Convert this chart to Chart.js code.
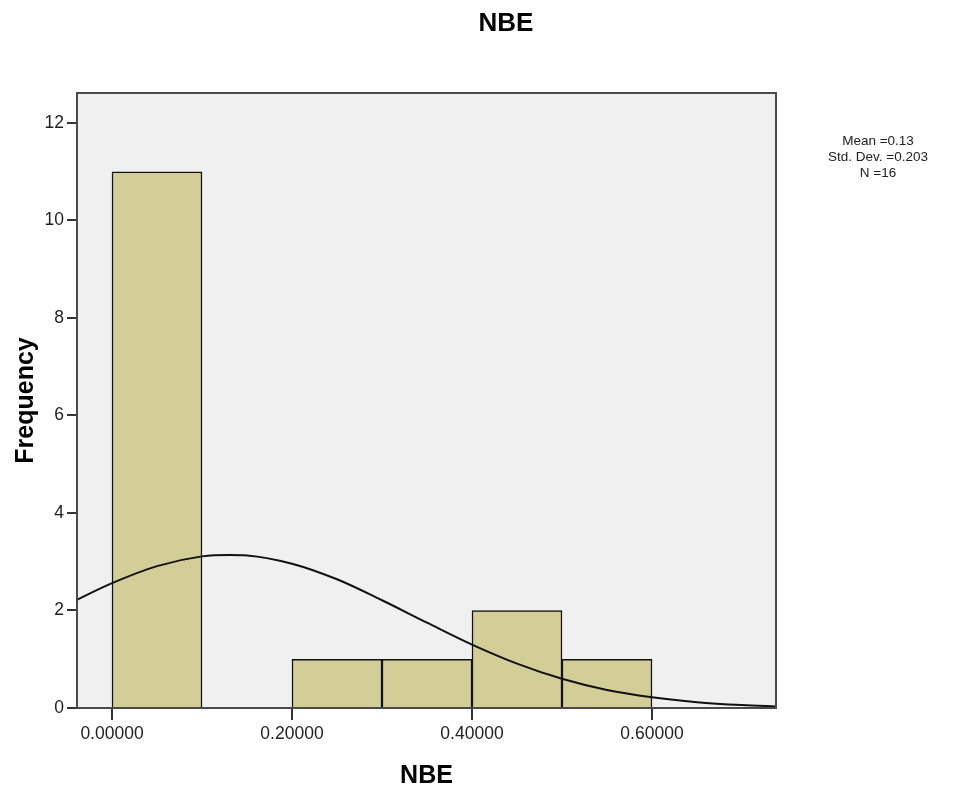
<!DOCTYPE html>
<html>
<head>
<meta charset="utf-8">
<script src="https://cdn.jsdelivr.net/npm/chart.js@4/dist/chart.umd.min.js"></script>
<style>
  html, body { margin: 0; padding: 0; background: #fff; }
  #wrap { position: relative; width: 973px; height: 791px; }
</style>
</head>
<body>
<div id="wrap"><canvas id="histChart" width="973" height="791"></canvas></div>
<script>
// histogram bins (centre of each 0.1 wide bin) and counts
const binCentres = [0.05, 0.25, 0.35, 0.45, 0.55];
const binCounts = [11, 1, 1, 2, 1];

// normal curve
const curveX = [-0.04, 0, 0.05, 0.1, 0.13, 0.15, 0.2, 0.25, 0.3, 0.35, 0.4, 0.45, 0.5, 0.55, 0.6, 0.65, 0.7, 0.74];
const curveY = [2.21, 2.56, 2.91, 3.11, 3.14, 3.13, 2.96, 2.64, 2.21, 1.75, 1.30, 0.91, 0.60, 0.37, 0.22, 0.12, 0.06, 0.03];

const xTicks = [0, 0.2, 0.4, 0.6];
const yTicks = [0, 2, 4, 6, 8, 10, 12];
const statsLines = ['Mean =0.13', 'Std. Dev. =0.203', 'N =16'];

const fontFamily = '"Liberation Sans", Arial, sans-serif';

// plot background, frame, title and stats text
const framePlugin = {
    id: 'frame',
    beforeDatasetsDraw(chart) {
        const a = chart.chartArea;
        const ctx = chart.ctx;
        ctx.save();
        ctx.fillStyle = '#f0f0f0';
        ctx.fillRect(a.left, a.top, a.right - a.left, a.bottom - a.top);
        ctx.restore();
    },
    afterDraw(chart) {
        const a = chart.chartArea;
        const ctx = chart.ctx;
        ctx.save();
        ctx.strokeStyle = '#4a4a4a';
        ctx.lineWidth = 2;
        ctx.strokeRect(a.left, a.top, a.right - a.left, a.bottom - a.top);

        ctx.fillStyle = '#000';
        ctx.textAlign = 'center';
        ctx.textBaseline = 'middle';
        ctx.font = 'bold 26px ' + fontFamily;
        ctx.fillText('NBE', 506, 24);

        ctx.font = '13.5px ' + fontFamily;
        ctx.fillStyle = '#222';
        statsLines.forEach((s, i) => ctx.fillText(s, 878, 141 + i * 16));
        ctx.restore();
    }
};

new Chart(document.getElementById('histChart'), {
    type: 'bar',
    data: {
        datasets: [
            {
                type: 'line',
                data: curveX.map((x, i) => ({ x: x, y: curveY[i] })),
                borderColor: '#111',
                borderWidth: 2,
                pointRadius: 0,
                tension: 0.4,
                cubicInterpolationMode: 'monotone',
                order: 0
            },
            {
                type: 'bar',
                data: binCentres.map((x, i) => ({ x: x, y: binCounts[i] })),
                backgroundColor: '#d3ce98',
                borderColor: '#111',
                borderWidth: 1.5,
                barPercentage: 1,
                categoryPercentage: 1,
                order: 1
            }
        ]
    },
    options: {
        responsive: false,
        animation: false,
        layout: { padding: { top: 93, right: 197, left: 0, bottom: 0 } },
        plugins: { legend: { display: false }, tooltip: { enabled: false } },
        scales: {
            x: {
                type: 'linear',
                offset: false,
                min: -0.0389,
                max: 0.7378,
                afterBuildTicks: s => { s.ticks = xTicks.map(v => ({ value: v })); },
                afterFit: s => { s.height = 83; },
                grid: { offset: false, drawOnChartArea: false, drawTicks: true, tickLength: 12, color: '#333', lineWidth: 2 },
                border: { display: false },
                ticks: {
                    padding: 4,
                    color: '#222',
                    font: { family: fontFamily, size: 17.5 },
                    maxRotation: 0,
                    callback: v => v.toFixed(5)
                },
                title: {
                    display: true,
                    text: 'NBE',
                    color: '#000',
                    font: { family: fontFamily, size: 25, weight: 'bold' },
                    padding: { top: 0, bottom: 0 }
                }
            },
            y: {
                min: 0,
                max: 12.615,
                afterBuildTicks: s => { s.ticks = yTicks.map(v => ({ value: v })); },
                afterFit: s => { s.width = 77; },
                grid: { drawOnChartArea: false, drawTicks: true, tickLength: 10, color: '#333', lineWidth: 2 },
                border: { display: false },
                ticks: {
                    padding: 3,
                    color: '#222',
                    font: { family: fontFamily, size: 17.5 }
                },
                title: {
                    display: true,
                    text: 'Frequency',
                    color: '#000',
                    font: { family: fontFamily, size: 25, weight: 'bold' },
                    padding: { top: 11, bottom: 0 }
                }
            }
        }
    },
    plugins: [framePlugin]
});
</script>
</body>
</html>
